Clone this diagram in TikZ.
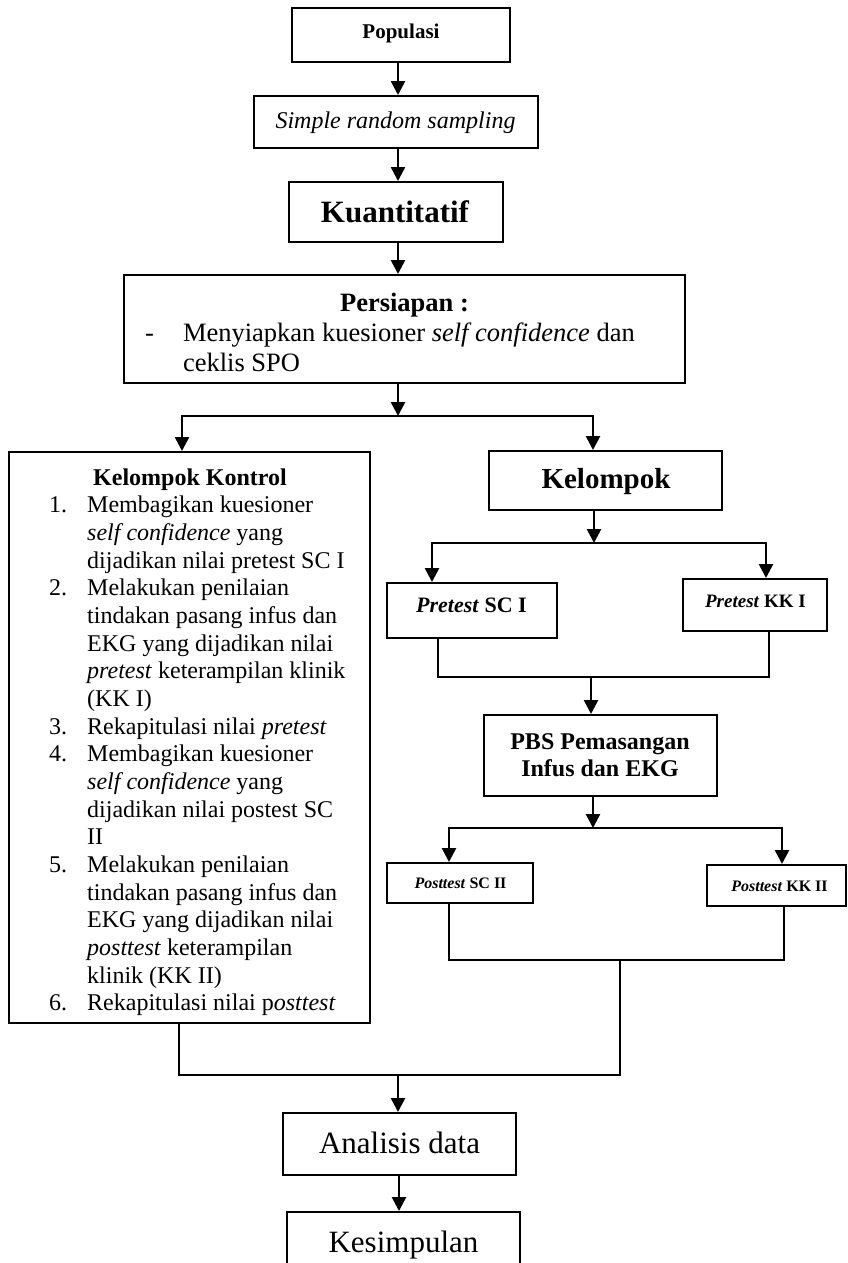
\documentclass[tikz,border=0pt]{standalone}
\usepackage{fontspec}
\setmainfont{Liberation Serif}
\usetikzlibrary{arrows.meta,calc}
\newcommand\myfs[2]{\fontsize{#1}{#2}\selectfont}
\begin{document}
\begin{tikzpicture}[x=1pt,y=-1pt,
  box/.style={draw, line width=2pt, inner sep=0pt},
  arr/.style={line width=2.6pt, -{Triangle[length=14pt,width=14pt]}},
  bl/.style={line width=2.6pt, line cap=rect},
  ln/.style={line width=1.8pt, line cap=rect},
  txt/.style={inner sep=0pt, anchor=base},
  lst/.style={inner sep=0pt, anchor=base west}]
\useasboundingbox (0,0) rectangle (848,1263);
\clip (0,0) rectangle (848,1263);

% boxes
\node[box, minimum width=218pt, minimum height=54pt] (pop) at (401,35) {};
\node[box, minimum width=284pt, minimum height=52pt] (srs) at (396,122) {};
\node[box, minimum width=214pt, minimum height=60pt] (kuan) at (396,212) {};
\node[box, minimum width=561pt, minimum height=108pt] (pers) at (404.5,329) {};
\node[box, minimum width=361pt, minimum height=571pt] (kk) at (189.5,737.5) {};
\node[box, minimum width=233pt, minimum height=59pt] (kel) at (605.5,480.5) {};
\node[box, minimum width=170pt, minimum height=55pt] (presc) at (472,610.5) {};
\node[box, minimum width=144pt, minimum height=52pt] (prekk) at (755,605) {};
\node[box, minimum width=233pt, minimum height=81pt] (pbs) at (600.5,755.5) {};
\node[box, minimum width=146pt, minimum height=40pt] (postsc) at (460,883) {};
\node[box, minimum width=139pt, minimum height=41pt] (postkk) at (776.5,885.5) {};
\node[box, minimum width=233pt, minimum height=62pt] (anal) at (399.5,1144) {};
\node[box, minimum width=233pt, minimum height=90pt] (kes) at (403.5,1257) {};

% texts
\node[txt] (popt) at (401,38) {\myfs{21}{24}\bfseries Populasi};
\node[txt] (srst) at (395.5,128) {\myfs{24}{27}\itshape Simple random sampling};
\node[txt] (kuant) at (395,222) {\myfs{31}{35}\bfseries Kuantitatif};
\node[txt] (perst) at (404.5,311) {\myfs{26.5}{30}\bfseries Persiapan :};
\node[lst] (persl) at (145,341) {\myfs{26.5}{30}\begin{tabular}[t]{@{}l@{\hspace{29pt}}l@{}}
-& Menyiapkan kuesioner \textit{self confidence} dan\\
 & ceklis SPO
\end{tabular}};
\node[txt] (kkt) at (190,485) {\myfs{24}{27.67}\bfseries Kelompok Kontrol};
\node[lst] (kkl) at (49,512.7) {\myfs{24}{27.67}\begin{tabular}[t]{@{}r@{\hspace{20pt}}l@{}}
1.& Membagikan kuesioner\\
 & \textit{self confidence} yang\\
 & dijadikan nilai pretest SC I\\
2.& Melakukan penilaian\\
 & tindakan pasang infus dan\\
 & EKG yang dijadikan nilai\\
 & \textit{pretest} keterampilan klinik\\
 & (KK I)\\
3.& Rekapitulasi nilai \textit{pretest}\\
4.& Membagikan kuesioner\\
 & \textit{self confidence} yang\\
 & dijadikan nilai postest SC\\
 & II\\
5.& Melakukan penilaian\\
 & tindakan pasang infus dan\\
 & EKG yang dijadikan nilai\\
 & \textit{posttest} keterampilan\\
 & klinik (KK II)\\
6.& Rekapitulasi nilai p\textit{osttest}
\end{tabular}};
\node[txt] (kelt) at (606,488) {\myfs{29}{33}\bfseries Kelompok};
\node[txt] (presct) at (471.5,612) {\myfs{22}{25}\bfseries\textit{Pretest} SC I};
\node[txt] (prekkt) at (755.5,607) {\myfs{19}{22}\bfseries\textit{Pretest} KK I};
\node[txt] (pbst) at (600,749) {\myfs{24}{27}\bfseries\begin{tabular}[t]{@{}c@{}}PBS Pemasangan\\ Infus dan EKG\end{tabular}};
\node[txt] (postsct) at (460.5,888) {\myfs{16}{19}\bfseries\textit{Posttest} SC II};
\node[txt] (postkkt) at (779.5,891) {\myfs{16}{19}\bfseries\textit{Posttest} KK II};
\node[txt] (analt) at (399.5,1153) {\myfs{31}{35}Analisis data};
\node[txt] (kest) at (403.5,1252) {\myfs{31}{35}Kesimpulan};

% connectors top
\coordinate (cx) at (398,0);
\draw[arr] (pop.south -| cx) -- (srs.north -| cx);
\draw[arr] (srs.south -| cx) -- (kuan.north -| cx);
\draw[arr] (kuan.south -| cx) -- (pers.north -| cx);

\coordinate (j1) at (398,416);
\coordinate (j1l) at (182,416);
\coordinate (j1r) at (593,416);
\draw[arr] (pers.south -| j1) -- (j1);
\draw[bl] (j1l) -- (j1r);
\draw[arr] (j1l) -- (kk.north -| j1l);
\draw[arr] (j1r) -- (kel.north -| j1r);

\coordinate (j2) at (594,543);
\coordinate (j2l) at (432,543);
\coordinate (j2r) at (766,543);
\draw[arr] (kel.south -| j2) -- (j2);
\draw[bl] (j2l) -- (j2r);
\draw[arr] (j2l) -- (presc.north -| j2l);
\draw[arr] (j2r) -- (prekk.north -| j2r);

\coordinate (m1l) at (438,677);
\coordinate (m1r) at (769,677);
\coordinate (m1) at (591,677);
\draw[ln] (presc.south -| m1l) -- (m1l) -- (m1r) -- (prekk.south -| m1r);
\draw[arr] (m1) -- (pbs.north -| m1);

\coordinate (j3) at (593,828);
\coordinate (j3l) at (449,828);
\coordinate (j3r) at (782,828);
\draw[arr] (pbs.south -| j3) -- (j3);
\draw[bl] (j3l) -- (j3r);
\draw[arr] (j3l) -- (postsc.north -| j3l);
\draw[arr] (j3r) -- (postkk.north -| j3r);

\coordinate (m2l) at (449,960);
\coordinate (m2r) at (784,960);
\coordinate (m2) at (620,960);
\coordinate (m3) at (620,1075);
\coordinate (m3l) at (179,1075);
\coordinate (m3c) at (398,1075);
\draw[ln] (postsc.south -| m2l) -- (m2l) -- (m2r) -- (postkk.south -| m2r);
\draw[ln] (m2) -- (m3) -- (m3l) -- (kk.south -| m3l);
\draw[arr] (m3c) -- (anal.north -| m3c);
\coordinate (cx2) at (399,0);
\draw[arr] (anal.south -| cx2) -- (kes.north -| cx2);
\end{tikzpicture}
\end{document}
